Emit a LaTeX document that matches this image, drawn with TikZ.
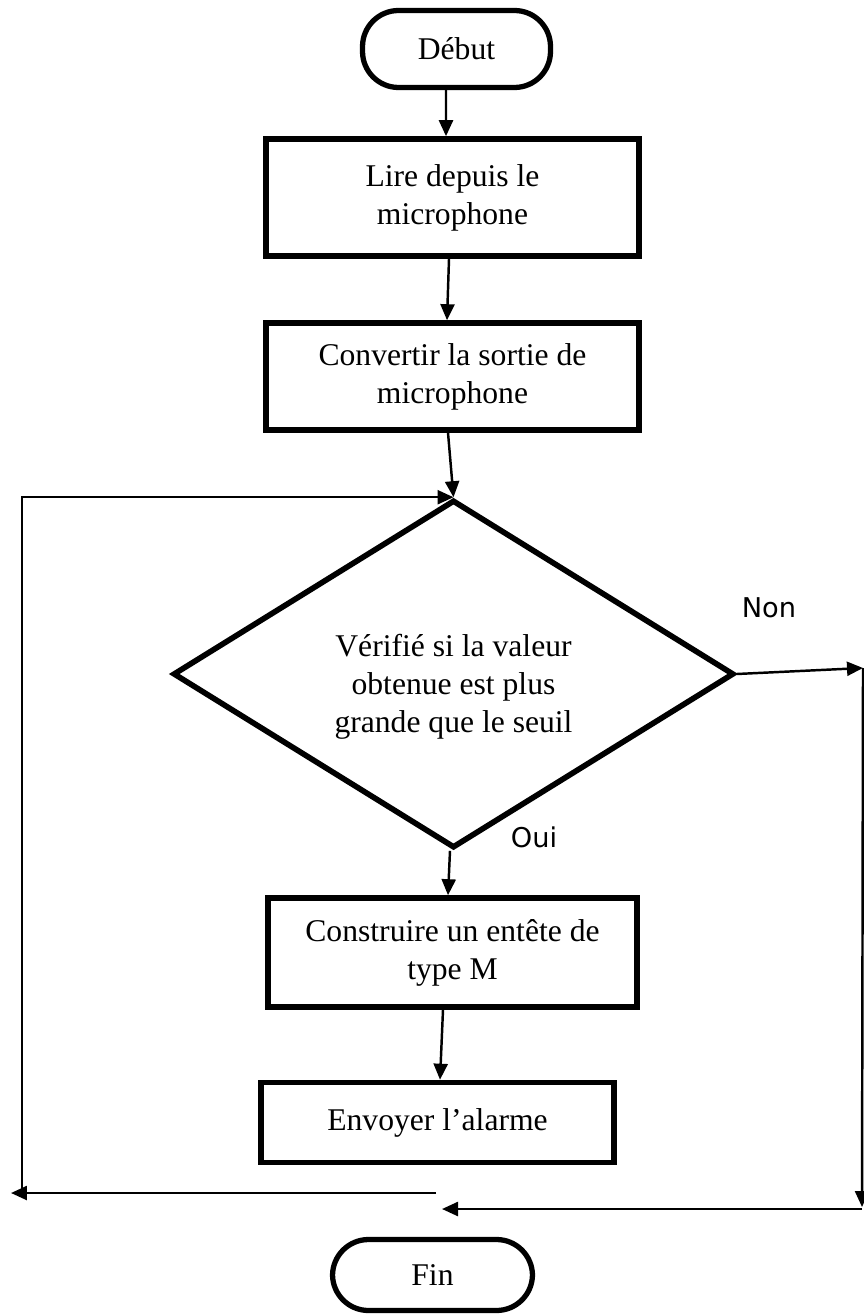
\documentclass[tikz,border=0pt]{standalone}
\usepackage{fontspec}
\setmainfont{Liberation Serif}
\newfontfamily\labelfont{DejaVu Sans}
\usetikzlibrary{shapes.geometric, arrows.meta}

\begin{document}
\begin{tikzpicture}[
        x=0.02cm, y=-0.02cm,
        font=\fontsize{18}{21.6}\selectfont,
        >={Triangle[length=0.32cm, width=0.28cm]},
        box/.style={
            draw,
            line width=3.2pt,
            align=center,
            inner sep=0pt
        },
        term/.style={
            draw,
            line width=3pt,
            rounded corners=0.72cm,
            inner sep=0pt
        },
        decision/.style={
            draw,
            diamond,
            shape aspect=2,
            line width=3.2pt,
            align=center,
            inner sep=0pt,
            minimum width=11.22cm,
            minimum height=6.96cm
        },
        flow/.style={->, line width=1.4pt},
        answer/.style={font=\labelfont\fontsize{15.5}{18}\selectfont}
    ]
    \useasboundingbox (0,0) rectangle (864,1314);

    \node[term, minimum width=3.76cm, minimum height=1.54cm] (debut) at (456.5,49) {Début};

    \node[box, minimum width=7.46cm, minimum height=2.34cm] (lire) at (452.5,197.5) {Lire depuis le\\microphone};

    \node[box, minimum width=7.46cm, minimum height=2.14cm] (conv) at (452.5,376.5) {Convertir la sortie de\\microphone};

    \node[decision] (verif) at (453.5,674) {\rule{0pt}{0.95cm}Vérifié si la valeur\\obtenue est plus\\grande que le seuil};

    \node[box, minimum width=7.38cm, minimum height=2.18cm] (constr) at (452.5,952.5) {Construire un entête de\\type M};

    \node[box, minimum width=7.06cm, minimum height=1.6cm] (envoi) at (437.5,1122.5) {Envoyer l’alarme};

    \node[term, minimum width=4cm, minimum height=1.42cm] (fin) at (432.5,1275) {Fin};

    \node[answer] (non) at (769,608) {Non};
    \node[answer] (oui) at (534,837) {Oui};

    \coordinate (lbot) at (22,1193);
    \coordinate (lend) at (436,1193);
    \coordinate (ltip) at (11,1193);
    \coordinate (rtop) at (863,668);
    \coordinate (rbot) at (862,1207);
    \coordinate (rend) at (862,1209);
    \coordinate (rtip) at (442,1209);

    \draw[flow] ([xshift=-0.21cm]debut.south) -- ([xshift=-0.13cm]lire.north);
    \draw[flow] ([xshift=-0.07cm]lire.south) -- ([xshift=-0.11cm]conv.north);
    \draw[flow] ([xshift=-0.09cm]conv.south) -- (verif.north);
    \draw[flow] (lbot) |- (verif.north);
    \draw[flow] (verif.east) -- (rtop);
    \draw[flow] (rtop) -- (rbot);
    \draw[flow] (rend) -- (rtip);
    \draw[flow] ([xshift=-0.07cm]verif.south) -- ([xshift=-0.09cm]constr.north);
    \draw[flow] ([xshift=-0.19cm]constr.south) -- ([xshift=0.05cm]envoi.north);
    \draw[flow] (lend) -- (ltip);
\end{tikzpicture}
\end{document}
